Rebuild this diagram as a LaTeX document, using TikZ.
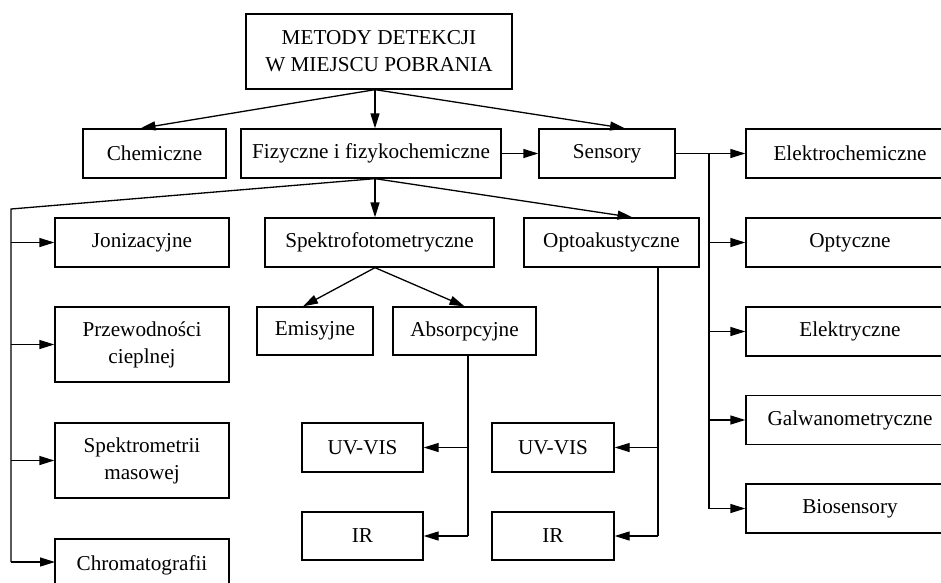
\documentclass[tikz,border=0pt]{standalone}
\usepackage{fontspec}
\setmainfont{Liberation Serif}
\usetikzlibrary{arrows.meta}

\begin{document}
\begin{tikzpicture}[x=1pt,y=-1pt,line width=1.3pt]
            \tikzset{
                box/.style={draw,inner sep=0pt,align=center,minimum height=49pt,
                    font=\fontsize{21.2}{27}\selectfont},
                arr/.style={-{Triangle[length=15pt,width=9pt]}},}
            \useasboundingbox (0,0) rectangle (941,582);
            \clip (0,0) rectangle (941,582);
            % first two levels
            \node[box,minimum width=266pt,minimum height=75pt] (root) at (379,51.5) {METODY DETEKCJI\\W MIEJSCU POBRANIA};
            \node[box,minimum width=143pt] (chem) at (154.5,153.5) {Chemiczne};
            \node[box,minimum width=260pt] (fiz) at (371,153.5) {Fizyczne i fizykochemiczne};
            \node[box,minimum width=136pt] (sens) at (607,153.5) {Sensory};
            \foreach \n/\y/\t in {elchem/153.5/Elektrochemiczne,opt/242.5/Optyczne,elek/331.5/Elektryczne,galw/420/Galwanometryczne,bio/508.5/Biosensory}
                \node[box,minimum width=208pt] (\n) at (850,\y) {\t};
            % left column
            \node[box,minimum width=174pt] (jon) at (142,242.5) {Jonizacyjne};
            \node[box,minimum width=174pt,minimum height=75pt] (prz) at (142,344.5) {Przewodności\\cieplnej};
            \node[box,minimum width=174pt,minimum height=75pt] (spm) at (142,460.5) {Spektrometrii\\masowej};
            \node[box,minimum width=174pt,minimum height=75pt] (chrom) at (142,576.5) {Chromatografii\hspace{14pt}\\~};
            % middle
            \node[box,minimum width=229pt] (spek) at (379.5,242.5) {Spektrofotometryczne};
            \node[box,minimum width=175pt] (opto) at (611.5,242.5) {Optoakustyczne};
            \node[box,minimum width=116pt,minimum height=48pt] (emis) at (315,331) {Emisyjne};
            \node[box,minimum width=143pt,minimum height=48pt] (abs) at (464.5,331) {Absorpcyjne};
            \node[box,minimum width=121pt] (uva) at (362.5,447.5) {UV-VIS};
            \node[box,minimum width=121pt,minimum height=48pt] (ira) at (362.5,536) {IR};
            \node[box,minimum width=122pt] (uvb) at (553,447.5) {UV-VIS};
            \node[box,minimum width=122pt,minimum height=48pt] (irb) at (553,536) {IR};
            % connectors
            \coordinate (rs) at ([xshift=-4pt]root.south);
            \draw[arr] (rs) -- ([xshift=-14pt]chem.north);
            \draw[arr] (rs) -- (rs |- fiz.north);
            \draw[arr] (rs) -- ([xshift=18pt]sens.north);
            \draw[arr] (fiz) -- (sens);
            \draw[arr] (sens) -- (elchem);
            \coordinate (sb) at (709,153.5);
            \draw (sb) -- (sb |- bio);
            \foreach \n in {opt,elek,galw,bio}
                \draw[arr] (sb |- \n) -- (\n);
            \coordinate (fs) at ([xshift=4pt]fiz.south);
            \coordinate (lb) at (11,209);
            \coordinate (cl) at (55,562);
            \draw (fs) -- (lb) -- (lb |- cl);
            \foreach \n in {jon,prz,spm}
                \draw[arr] (lb |- \n) -- (\n);
            \draw[arr] (lb |- cl) -- (cl);
            \draw[arr] (fs) -- (fs |- spek.north);
            \draw[arr] (fs) -- ([xshift=21pt]opto.north);
            \coordinate (ss) at ([xshift=-4.5pt]spek.south);
            \draw[arr] (ss) -- ([xshift=-12pt]emis.north);
            \draw[arr] (ss) -- (abs.north);
            \coordinate (ab) at ([xshift=3.5pt]abs.south);
            \draw (ab) -- (ab |- ira);
            \draw[arr] (ab |- uva) -- (uva);
            \draw[arr] (ab |- ira) -- (ira);
            \coordinate (ob) at ([xshift=46.5pt]opto.south);
            \draw (ob) -- (ob |- irb);
            \draw[arr] (ob |- uvb) -- (uvb);
            \draw[arr] (ob |- irb) -- (irb);
        \end{tikzpicture}
\end{document}
